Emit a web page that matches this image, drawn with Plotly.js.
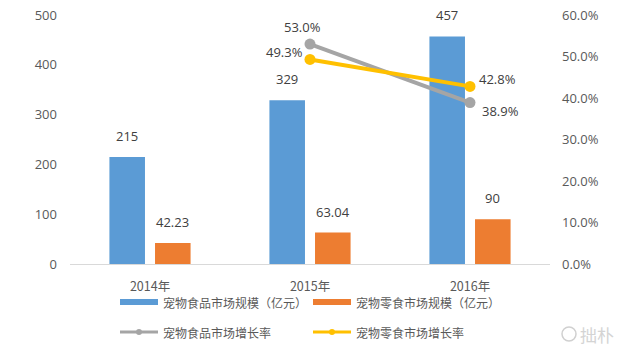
<!DOCTYPE html>
<html>
<head>
<meta charset="utf-8">
<script src="https://cdn.plot.ly/plotly-3.0.1.min.js"></script>
<style>
  html, body { margin: 0; padding: 0; background: #fff; }
  #chart { width: 640px; height: 353px; }
</style>
</head>
<body>
<div id="chart"></div>
<script>
// ---- data ----
const categories = ['2014年', '2015年', '2016年'];
const foodScale = [215, 329, 457];            // 宠物食品市场规模（亿元）
const snackScale = [42.23, 63.04, 90];        // 宠物零食市场规模（亿元）
const foodGrowth = [null, 0.530, 0.389];      // 宠物食品市场增长率
const snackGrowth = [null, 0.493, 0.428];     // 宠物零食市场增长率
const seriesNames = ['宠物食品市场规模（亿元）', '宠物零食市场规模（亿元）', '宠物食品市场增长率', '宠物零食市场增长率'];
const leftTicks = [0, 100, 200, 300, 400, 500];
const rightTicks = [0, 0.1, 0.2, 0.3, 0.4, 0.5, 0.6];

// ---- style ----
const colors = ['#5B9BD5', '#ED7D31', '#A5A5A5', '#FFC000'];
const numFont = 'Open Sans, Noto Sans, sans-serif';
const cjkFont = 'Noto Sans CJK SC, sans-serif';
const textColor = '#595959';

const traces = [
  { type: 'bar', x: categories, y: foodScale, name: seriesNames[0], marker: { color: colors[0] }, hoverinfo: 'none' },
  { type: 'bar', x: categories, y: snackScale, name: seriesNames[1], marker: { color: colors[1] }, hoverinfo: 'none' },
  { type: 'scatter', mode: 'lines+markers', x: categories, y: foodGrowth, yaxis: 'y2', name: seriesNames[2],
    line: { color: colors[2], width: 4 }, marker: { color: colors[2], size: 11 }, hoverinfo: 'none' },
  { type: 'scatter', mode: 'lines+markers', x: categories, y: snackGrowth, yaxis: 'y2', name: seriesNames[3],
    line: { color: colors[3], width: 4 }, marker: { color: colors[3], size: 11 }, hoverinfo: 'none' }
];

const annotations = [];
const barShift = 22.8;
categories.forEach((c, i) => {
  annotations.push({ x: c, y: foodScale[i], xref: 'x', yref: 'y', text: String(foodScale[i]), showarrow: false,
    xshift: -barShift, yshift: 21, font: { family: numFont, size: 13, color: '#404040' } });
  annotations.push({ x: c, y: snackScale[i], xref: 'x', yref: 'y', text: String(snackScale[i]), showarrow: false,
    xshift: barShift, yshift: 21, font: { family: numFont, size: 13, color: '#404040' } });
});
// line labels (offsets per point as in the reference)
const foodShifts = [null, [-8, 17], [30, -8]];
const snackShifts = [null, [-26, 7.5], [27, 7.5]];
categories.forEach((c, i) => {
  if (foodGrowth[i] !== null) annotations.push({ x: c, y: foodGrowth[i], xref: 'x', yref: 'y2',
    text: (foodGrowth[i] * 100).toFixed(1) + '%', showarrow: false,
    xshift: foodShifts[i][0], yshift: foodShifts[i][1], font: { family: numFont, size: 13, color: '#404040' } });
  if (snackGrowth[i] !== null) annotations.push({ x: c, y: snackGrowth[i], xref: 'x', yref: 'y2',
    text: (snackGrowth[i] * 100).toFixed(1) + '%', showarrow: false,
    xshift: snackShifts[i][0], yshift: snackShifts[i][1], font: { family: numFont, size: 13, color: '#404040' } });
});

// custom legend (paper coords): plot area x 70..550, y 264..15
const px = v => (v - 70) / 480;
const py = v => (264 - v) / 249;
const shapes = [];
const legendPos = [[120, 302], [313, 302], [120, 332], [313, 332]];
seriesNames.forEach((n, k) => {
  const [lx, ly] = legendPos[k];
  if (k < 2) {
    shapes.push({ type: 'rect', xref: 'paper', yref: 'paper', x0: px(lx), x1: px(lx + 38), y0: py(ly + 3), y1: py(ly - 3),
      fillcolor: colors[k], line: { width: 0 } });
  } else {
    shapes.push({ type: 'line', xref: 'paper', yref: 'paper', x0: px(lx), x1: px(lx + 38), y0: py(ly), y1: py(ly),
      line: { color: colors[k], width: 3 } });
    shapes.push({ type: 'circle', xref: 'paper', yref: 'paper', x0: px(lx + 16), x1: px(lx + 22), y0: py(ly + 3), y1: py(ly - 3),
      fillcolor: colors[k], line: { width: 0 } });
  }
  annotations.push({ xref: 'paper', yref: 'paper', x: px(lx + 42), y: py(ly), xanchor: 'left', yanchor: 'middle',
    text: n, showarrow: false, borderpad: 0, font: { family: cjkFont, size: 12, color: textColor } });
});
// watermark
shapes.push({ type: 'circle', xref: 'paper', yref: 'paper', x0: px(562), x1: px(576), y0: py(341), y1: py(327),
  fillcolor: 'rgba(0,0,0,0)', line: { color: '#d0d0d0', width: 1.5 } });
annotations.push({ xref: 'paper', yref: 'paper', x: px(578), y: py(334), xanchor: 'left', yanchor: 'middle',
  text: '拙朴', showarrow: false, font: { family: cjkFont, size: 17, color: '#d4d4d4' } });

const layout = {
  width: 640, height: 353,
  margin: { l: 70, r: 90, t: 15, b: 89, pad: 0 },
  paper_bgcolor: '#ffffff', plot_bgcolor: '#ffffff',
  showlegend: false,
  barmode: 'group', bargap: 0.43, bargroupgap: 0.22,
  font: { family: numFont, color: textColor, size: 13 },
  xaxis: { type: 'category', showgrid: false, zeroline: false, showline: true, linecolor: '#d9d9d9', linewidth: 1,
    ticks: '', ticklabelstandoff: 11, tickfont: { family: cjkFont, size: 12.5, color: textColor } },
  yaxis: { range: [0, 500], tickvals: leftTicks, showgrid: false, zeroline: false, showline: false, ticks: '',
    ticklabelstandoff: 12, tickfont: { family: numFont, size: 13, color: textColor } },
  yaxis2: { range: [0, 0.6], overlaying: 'y', side: 'right', tickvals: rightTicks, tickformat: '.1%',
    showgrid: false, zeroline: false, showline: false, ticks: '', ticklabelstandoff: 11,
    tickfont: { family: numFont, size: 13, color: textColor } },
  shapes: shapes,
  annotations: annotations
};

Plotly.newPlot('chart', traces, layout, { displayModeBar: false, staticPlot: true });
</script>
</body>
</html>
